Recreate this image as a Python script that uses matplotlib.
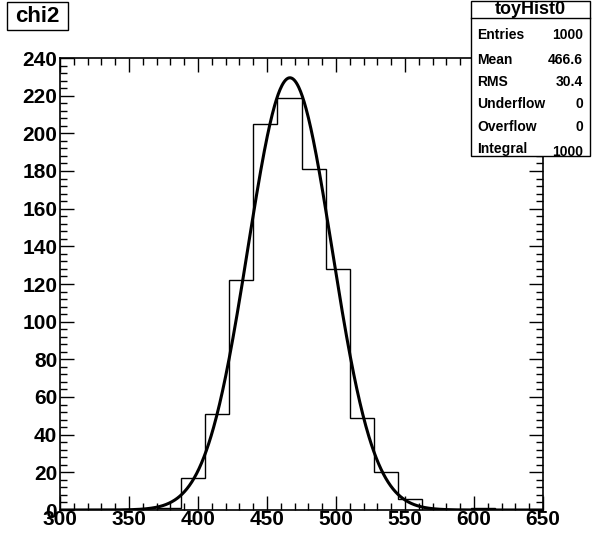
import numpy as np
import matplotlib.pyplot as plt
from matplotlib.patches import Rectangle
from matplotlib.ticker import MultipleLocator

plt.rcParams['font.family'] = ['Liberation Sans', 'DejaVu Sans']
plt.rcParams['font.weight'] = 'bold'

# histogram toyHist0: 20 bins from 300 to 650
bin_edges = np.linspace(300, 650, 21)
counts = [0, 0, 0, 0, 1, 17, 51, 122, 205, 219, 181, 128, 49, 20, 6, 0, 0, 1, 0, 0]

# gaussian fit parameters
fit_const = 229.5
fit_mean = 466.6
fit_sigma = 30.4

stat_labels = ["Entries", "Mean", "RMS", "Underflow", "Overflow", "Integral"]
stat_values = ["1000", "466.6", "30.4", "0", "0", "1000"]

W, H = 592, 537
fig = plt.figure(figsize=(W / 100, H / 100), dpi=100)
ax = fig.add_axes([60 / W, 27 / H, 483 / W, 452 / H])

ax.stairs(counts, bin_edges, color='black', lw=1.0)
xf = np.linspace(300, 650, 800)
yf = fit_const * np.exp(-0.5 * ((xf - fit_mean) / fit_sigma) ** 2)
ax.plot(xf, yf, color='black', lw=2.2)

ax.set_xlim(300, 650)
ax.set_ylim(0, 240)
ax.xaxis.set_major_locator(MultipleLocator(50))
ax.xaxis.set_minor_locator(MultipleLocator(10))
ax.yaxis.set_major_locator(MultipleLocator(20))
ax.yaxis.set_minor_locator(MultipleLocator(4))
ax.tick_params(which='both', direction='in', top=True, right=True, width=1)
ax.tick_params(which='major', length=10)
ax.tick_params(which='minor', length=5)
ax.tick_params(axis='x', labelsize=15, pad=0)
ax.tick_params(axis='y', labelsize=15, pad=2)
for lab in ax.get_xticklabels() + ax.get_yticklabels():
    lab.set_fontweight('bold')
for sp in ax.spines.values():
    sp.set_linewidth(1.2)

# title box
fig.add_artist(Rectangle((7 / W, 1 - 30 / H), 61 / W, 28 / H, transform=fig.transFigure,
                         fc='white', ec='black', lw=1))
fig.text(37.5 / W, 1 - 17 / H, "chi2", fontsize=16, fontweight='bold', va='center', ha='center')

# stats box
x0, x1 = 471, 590
y_top, y_hdr, y_bot = 1, 18, 156
fig.add_artist(Rectangle((x0 / W, 1 - y_bot / H), (x1 - x0) / W, (y_bot - y_top) / H,
                         transform=fig.transFigure, fc='white', ec='black', lw=1))
fig.add_artist(plt.Line2D([x0 / W, x1 / W], [1 - y_hdr / H, 1 - y_hdr / H],
                          transform=fig.transFigure, color='black', lw=1))
fig.text((x0 + x1) / 2 / W, 1 - 10 / H, "toyHist0", fontsize=13, fontweight='bold',
         ha='center', va='center')
row_y = [35, 60, 82, 104, 127, 149]
for i, (lab, val) in enumerate(zip(stat_labels, stat_values)):
    yy = row_y[i]
    fig.text((x0 + 6) / W, 1 - yy / H, lab, fontsize=10, fontweight='bold', va='center')
    fig.text((x1 - 7) / W, 1 - (yy + (3 if i == 5 else 0)) / H, val, fontsize=10,
             fontweight='bold', va='center', ha='right')

fig.savefig("out.png", dpi=100)
